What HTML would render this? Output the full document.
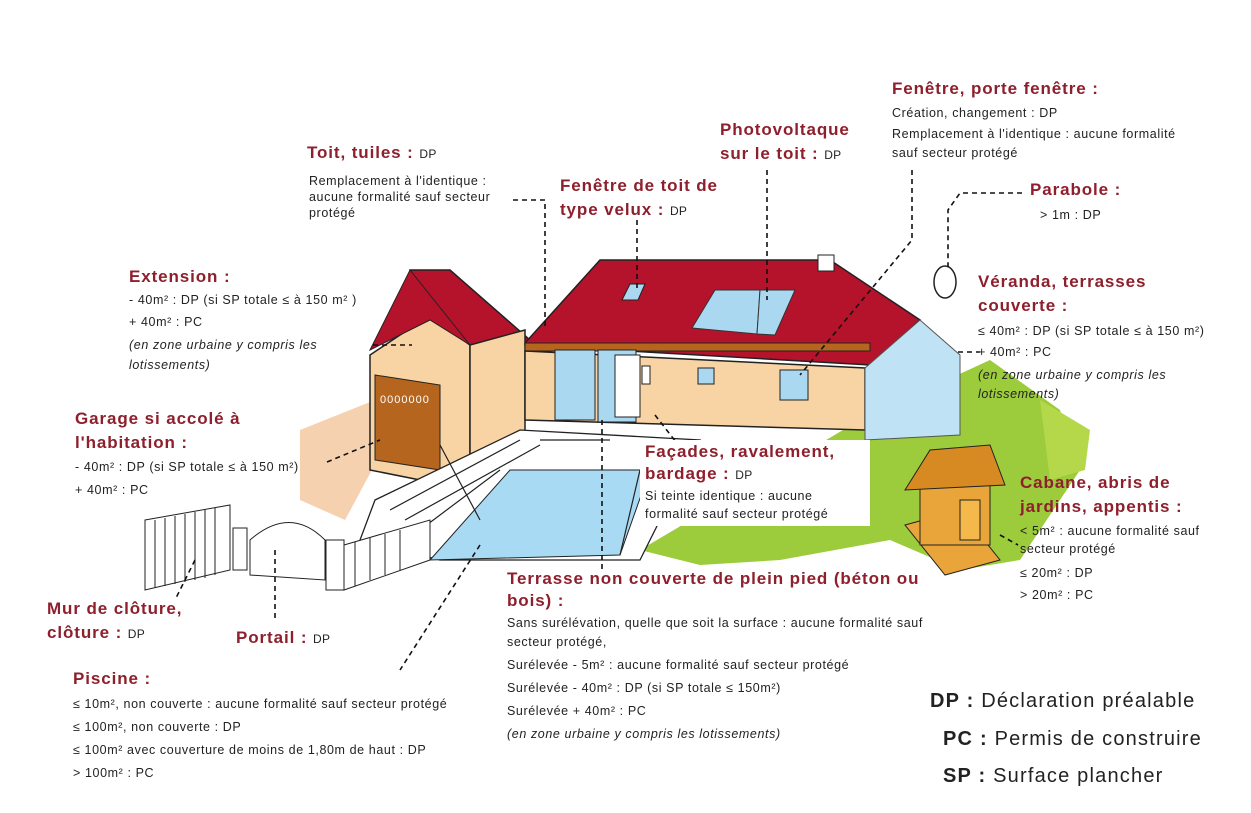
<!DOCTYPE html>
<html><head><meta charset="utf-8">
<style>
body{margin:0;background:#fff}
svg{display:block}
.h{font-family:"Liberation Sans",sans-serif;font-weight:bold;font-size:17px;letter-spacing:0.9px;fill:#8e1f2c}
.h tspan.s{font-weight:normal;font-size:12px;letter-spacing:0.3px;fill:#222}
.t{font-family:"Liberation Sans",sans-serif;font-size:12.5px;letter-spacing:0.6px;fill:#222}
.i{font-style:italic}
.l{font-family:"Liberation Sans",sans-serif;font-size:20px;letter-spacing:1.2px;fill:#222}
.d{stroke:#111;stroke-width:1.6;stroke-dasharray:5 4;fill:none}
</style></head><body>
<svg width="1251" height="813" viewBox="0 0 1251 813" xmlns="http://www.w3.org/2000/svg">
<path d="M640 550 L860 420 L990 360 L1060 410 L1080 470 L1020 560 L960 570 L890 540 L780 560 L700 565 Z" fill="#9ccb3c"/>
<path d="M1040 400 L1090 430 L1085 470 L1050 480 Z" fill="#b5d84a"/>
<path d="M300 430 L375 400 L380 455 L345 520 L300 500 Z" fill="#f3c69c" opacity=".8"/>
<path d="M370 355 L430 315 L470 345 L470 490 L370 470 Z" fill="#f8d3a3" stroke="#222" stroke-width="1.5"/>
<path d="M410 270 L450 270 L530 340 L500 360 L470 345 L410 300 Z" fill="#b5122b" stroke="#222" stroke-width="1.5"/>
<path d="M370 350 L410 270 L470 345 L430 320 Z" fill="#b5122b" stroke="#222"/>
<path d="M375 375 L440 385 L440 470 L375 460 Z" fill="#b5651d" stroke="#222"/>
<text x="380" y="403" style="font-family:'Liberation Sans',sans-serif;font-size:11px;fill:#fff;letter-spacing:1px">0000000</text>
<path d="M470 345 L525 330 L525 460 L470 490 Z" fill="#f8d3a3" stroke="#222" stroke-width="1.5"/>
<path d="M525 343 L600 260 L830 260 L920 320 L870 365 L525 345 Z" fill="#b5122b" stroke="#222" stroke-width="1.5"/>
<rect x="818" y="255" width="16" height="16" fill="#fff" stroke="#222"/>
<path d="M622 300 L630 284 L645 284 L638 300 Z" fill="#aad8f0" stroke="#222"/>
<path d="M692 328 L715 290 L760 290 L757 334 Z" fill="#aad8f0" stroke="#333"/>
<path d="M757 334 L760 290 L795 290 L775 335 Z" fill="#aad8f0" stroke="#333"/>
<rect x="525" y="343" width="345" height="8" fill="#b5651d" stroke="#222"/>
<path d="M525 351 L865 368 L865 430 L525 420 Z" fill="#f8d3a3" stroke="#222" stroke-width="1.5"/>
<rect x="555" y="350" width="40" height="70" fill="#aad8f0" stroke="#222"/>
<rect x="598" y="350" width="38" height="72" fill="#aad8f0" stroke="#222"/>
<rect x="615" y="355" width="25" height="62" fill="#fff" stroke="#222"/>
<rect x="642" y="366" width="8" height="18" fill="#fff" stroke="#222"/>
<rect x="698" y="368" width="16" height="16" fill="#aad8f0" stroke="#222"/>
<rect x="780" y="370" width="28" height="30" fill="#aad8f0" stroke="#222"/>
<path d="M865 368 L920 320 L960 355 L960 435 L865 440 Z" fill="#bfe3f5" stroke="#555"/>
<path d="M375 500 L520 430 L700 440 L640 560 L440 560 L360 540 Z" fill="#fff" stroke="#222" stroke-width="1.3"/>
<path d="M430 560 L510 470 L650 470 L620 555 Z" fill="#a9daf4" stroke="#222"/>
<g stroke="#222" stroke-width="1.2">
<line x1="390" y1="510" x2="520" y2="440"/><line x1="405" y1="520" x2="540" y2="445"/>
<line x1="420" y1="530" x2="500" y2="470"/><line x1="440" y1="445" x2="480" y2="520"/>
<line x1="540" y1="440" x2="610" y2="440"/><line x1="640" y1="470" x2="620" y2="555"/>
</g>
<g stroke="#222" fill="#fff">
<path d="M145 520 L230 505 L230 570 L145 590 Z"/>
<rect x="233" y="528" width="14" height="42"/>
<rect x="326" y="540" width="18" height="50"/>
<path d="M250 540 Q290 505 325 540 L325 580 L250 575 Z"/>
<path d="M344 545 L430 520 L430 560 L344 590 Z"/>
</g>
<g stroke="#222" stroke-width="1">
<line x1="155" y1="520" x2="155" y2="588"/><line x1="165" y1="518" x2="165" y2="586"/><line x1="175" y1="516" x2="175" y2="584"/><line x1="185" y1="514" x2="185" y2="582"/><line x1="195" y1="512" x2="195" y2="580"/><line x1="205" y1="510" x2="205" y2="578"/><line x1="215" y1="508" x2="215" y2="575"/>
<line x1="355" y1="542" x2="355" y2="586"/><line x1="370" y1="538" x2="370" y2="580"/><line x1="385" y1="534" x2="385" y2="575"/><line x1="400" y1="530" x2="400" y2="570"/>
</g>
<path d="M905 525 L960 510 L1000 560 L945 575 Z" fill="#e9a53a" stroke="#222"/>
<rect x="920" y="480" width="70" height="65" fill="#e9a53a" stroke="#222"/>
<path d="M905 490 L930 450 L990 445 L1005 485 Z" fill="#d78a22" stroke="#222"/>
<rect x="960" y="500" width="20" height="40" fill="#f4b94a" stroke="#222"/>
<ellipse cx="945" cy="282" rx="11" ry="16" fill="#fff" stroke="#222" stroke-width="1.5"/>
<path class="d" d="M513 200 L545 200 L545 330"/>
<path class="d" d="M637 220 L637 290"/>
<path class="d" d="M767 170 L767 300"/>
<path class="d" d="M912 170 L912 240 L800 375"/>
<path class="d" d="M1022 193 L960 193 L948 210 L948 270"/>
<path class="d" d="M958 352 L980 352"/>
<path class="d" d="M373 345 L412 345"/>
<path class="d" d="M327 462 L380 440"/>
<path class="d" d="M655 415 L690 460"/>
<path class="d" d="M1000 535 L1018 545"/>
<path class="d" d="M480 545 L400 670"/>
<path class="d" d="M275 550 L275 620"/>
<path class="d" d="M195 560 L175 600"/>
<path class="d" d="M602 420 L602 570"/>
<rect x="640" y="440" width="230" height="86" fill="#fff"/>
<text class="h" x="307" y="158">Toit, tuiles : <tspan class="s">DP</tspan></text>
<text class="t" x="309" y="185">Remplacement à l'identique :</text>
<text class="t" x="309" y="201">aucune formalité sauf secteur</text>
<text class="t" x="309" y="217">protégé</text>
<text class="h" x="560" y="191">Fenêtre de toit de</text>
<text class="h" x="560" y="215">type velux : <tspan class="s">DP</tspan></text>
<text class="h" x="720" y="135">Photovoltaque</text>
<text class="h" x="720" y="159">sur le toit : <tspan class="s">DP</tspan></text>
<text class="h" x="892" y="94">Fenêtre, porte fenêtre :</text>
<text class="t" x="892" y="117">Création, changement : DP</text>
<text class="t" x="892" y="138">Remplacement à l'identique : aucune formalité</text>
<text class="t" x="892" y="157">sauf secteur protégé</text>
<text class="h" x="1030" y="195">Parabole :</text>
<text class="t" x="1040" y="219">&gt; 1m : DP</text>
<text class="h" x="978" y="287">Véranda, terrasses</text>
<text class="h" x="978" y="311">couverte :</text>
<text class="t" x="978" y="335">≤ 40m² : DP (si SP totale ≤ à 150 m²)</text>
<text class="t" x="978" y="356">+ 40m² : PC</text>
<text class="t i" x="978" y="379">(en zone urbaine y compris les</text>
<text class="t i" x="978" y="398">lotissements)</text>
<text class="h" x="129" y="282">Extension :</text>
<text class="t" x="129" y="304">- 40m² : DP (si SP totale ≤ à 150 m² )</text>
<text class="t" x="129" y="326">+ 40m² : PC</text>
<text class="t i" x="129" y="349">(en zone urbaine y compris les</text>
<text class="t i" x="129" y="369">lotissements)</text>
<text class="h" x="75" y="424">Garage si accolé à</text>
<text class="h" x="75" y="448">l'habitation :</text>
<text class="t" x="75" y="471">- 40m² : DP (si SP totale ≤ à 150 m²)</text>
<text class="t" x="75" y="494">+ 40m² : PC</text>
<text class="h" x="645" y="457">Façades, ravalement,</text>
<text class="h" x="645" y="479">bardage : <tspan class="s">DP</tspan></text>
<text class="t" x="645" y="500">Si teinte identique : aucune</text>
<text class="t" x="645" y="518">formalité sauf secteur protégé</text>
<text class="h" x="1020" y="488">Cabane, abris de</text>
<text class="h" x="1020" y="512">jardins, appentis :</text>
<text class="t" x="1020" y="535">&lt; 5m² : aucune formalité sauf</text>
<text class="t" x="1020" y="553">secteur protégé</text>
<text class="t" x="1020" y="577">≤ 20m² : DP</text>
<text class="t" x="1020" y="599">&gt; 20m² : PC</text>
<text class="h" x="507" y="584">Terrasse non couverte de plein pied (béton ou</text>
<text class="h" x="507" y="606">bois) :</text>
<text class="t" x="507" y="627">Sans surélévation, quelle que soit la surface : aucune formalité sauf</text>
<text class="t" x="507" y="646">secteur protégé,</text>
<text class="t" x="507" y="669">Surélevée - 5m² : aucune formalité sauf secteur protégé</text>
<text class="t" x="507" y="692">Surélevée - 40m² : DP (si SP totale ≤ 150m²)</text>
<text class="t" x="507" y="715">Surélevée + 40m² : PC</text>
<text class="t i" x="507" y="738">(en zone urbaine y compris les lotissements)</text>
<text class="h" x="47" y="614">Mur de clôture,</text>
<text class="h" x="47" y="638">clôture : <tspan class="s">DP</tspan></text>
<text class="h" x="236" y="643">Portail : <tspan class="s">DP</tspan></text>
<text class="h" x="73" y="684">Piscine :</text>
<text class="t" x="73" y="708">≤ 10m², non couverte : aucune formalité sauf secteur protégé</text>
<text class="t" x="73" y="731">≤ 100m², non couverte : DP</text>
<text class="t" x="73" y="754">≤ 100m² avec couverture de moins de 1,80m de haut : DP</text>
<text class="t" x="73" y="777">&gt; 100m² : PC</text>
<text class="l" x="930" y="707"><tspan font-weight="bold">DP :</tspan> Déclaration préalable</text>
<text class="l" x="943" y="745"><tspan font-weight="bold">PC :</tspan> Permis de construire</text>
<text class="l" x="943" y="782"><tspan font-weight="bold">SP :</tspan> Surface plancher</text>
</svg>
</body></html>
